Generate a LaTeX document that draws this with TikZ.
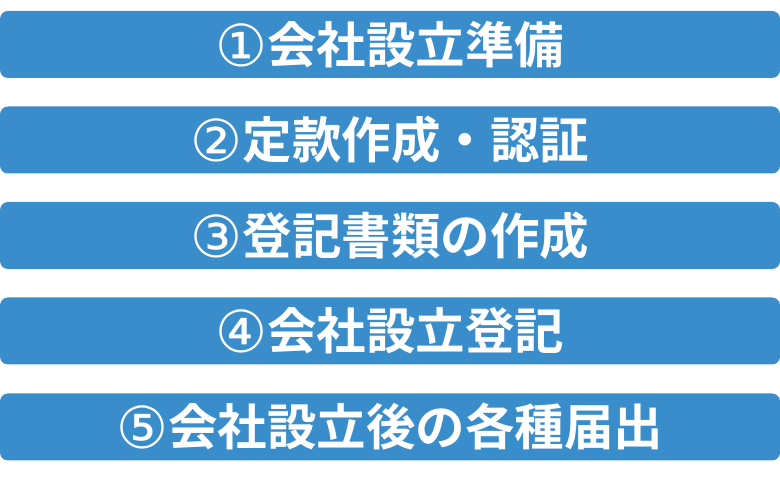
\documentclass[tikz,border=0pt]{standalone}
\usepackage{fontspec}
\newfontfamily\cjk{Noto Sans CJK JP}[BoldFont={* Bold}]
\newfontfamily\circnum{DejaVu Sans}
\definecolor{stepblue}{HTML}{3A8DCB}
\newcommand{\numstep}[1]{\raisebox{-3pt}{\circnum\mdseries\fontsize{58pt}{60pt}\selectfont #1}}
\tikzset{
  stepbox/.style={fill=stepblue, rounded corners=8pt, minimum width=780pt,
    minimum height=67pt, inner sep=0pt, text=white,
    font=\cjk\bfseries\fontsize{49.5pt}{52pt}\selectfont}
}
\begin{document}
\begin{tikzpicture}[x=1pt,y=1pt]
    \useasboundingbox (0,0) rectangle (780,490); %tela
    \node[stepbox] (passo1) at (390,445.5) {\numstep{①}会社設立準備};
    \node[stepbox] (passo2) at (390,350) {\numstep{②}定款作成・認証};
    \node[stepbox] (passo3) at (390,254.5) {\numstep{③}登記書類の作成};
    \node[stepbox] (passo4) at (390,159) {\numstep{④}会社設立登記};
    \node[stepbox] (passo5) at (390,63) {\numstep{⑤}会社設立後の各種届出};
  \end{tikzpicture}
\end{document}
